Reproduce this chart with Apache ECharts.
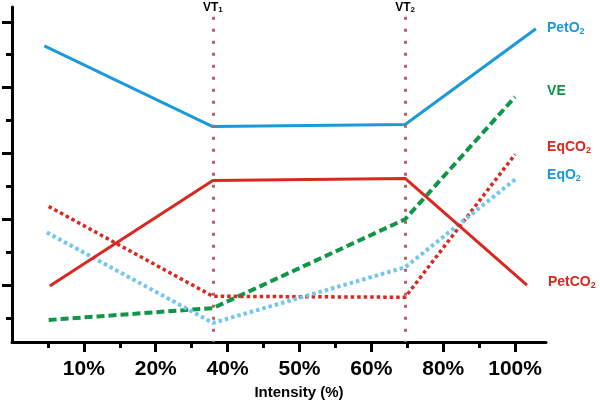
<!DOCTYPE html>
<html>
<head>
<meta charset="utf-8">
<script src="https://cdn.jsdelivr.net/npm/echarts@6/dist/echarts.min.js"></script>
<style>html,body{margin:0;padding:0;background:#fff}#c{width:600px;height:403px}</style>
</head>
<body>
<div id="c"></div>
<script>
// x positions on an evenly ticked axis (tick every unit); y in arbitrary units
const xTickPositions = [2, 4, 6, 8, 10, 12, 14];
const xTickLabels = ['10%', '20%', '40%', '50%', '60%', '80%', '100%'];
const xMinorTicks = [1, 3, 5, 7, 9, 11, 13];
const yMajorTicks = [1.73, 3.73, 5.73, 7.73, 9.73];
const yMinorTicks = [0.73, 2.73, 4.73, 6.73, 8.73];

const vtX = [5.59, 10.94];
const vtNames = ['1', '2'];

const xPetO2 = [0.9, 5.57, 10.94, 14.58];
const yPetO2 = [9.0, 6.55, 6.61, 9.52];
const xPetCO2 = [1.05, 5.59, 10.94, 14.33];
const yPetCO2 = [1.70, 4.91, 4.97, 1.73];
const xVE = [1.02, 5.59, 10.94, 14.0];
const yVE = [0.67, 1.03, 3.73, 7.45];
const xEqCO2 = [1.02, 5.59, 10.94, 14.0];
const yEqCO2 = [4.12, 1.39, 1.36, 5.70];
const xEqO2 = [0.97, 5.59, 10.94, 14.0];
const yEqO2 = [3.33, 0.58, 2.27, 4.94];

const zip = (xs, ys) => xs.map((x, i) => [x, ys[i]]);
const FONT = '"Liberation Sans", Arial, sans-serif';
const NARROW = '"Liberation Sans Narrow", "Liberation Sans", Arial, sans-serif';

const BLUE = '#1b9ad7', GREEN = '#0f9648', RED = '#d8281f', LBLUE = '#74c6ec', VT = '#b3646b';

function endLab(main, sub, color, offset) {
  return {
    show: true, distance: 0, offset: offset, align: 'left', verticalAlign: 'middle',
    formatter: '{a|' + main + '}{s|' + sub + '}',
    rich: {
      a: {fontFamily: FONT, fontWeight: 'bold', fontSize: 14, lineHeight: 16, color: color},
      s: {fontFamily: FONT, fontWeight: 'bold', fontSize: 9, lineHeight: 10, color: color, verticalAlign: 'bottom'}
    }
  };
}

const chart = echarts.init(document.getElementById('c'), null, {renderer: 'canvas'});
chart.setOption({
  animation: false,
  backgroundColor: '#fff',
  grid: {left: 12, right: 54, top: 7, bottom: 61, containLabel: false, outerBoundsMode: 'none'},
  xAxis: [{
    type: 'value', min: 0, max: 14.86, position: 'bottom',
    axisLine: {show: true, onZero: false, lineStyle: {color: '#000', width: 3}},
    axisTick: {show: true, customValues: xTickPositions, length: 10, lineStyle: {color: '#000', width: 3}},
    axisLabel: {
      show: true, customValues: xTickPositions, margin: 17,
      formatter: v => xTickLabels[xTickPositions.indexOf(v)] || '',
      fontFamily: NARROW, fontWeight: 'bold', fontSize: 21, color: '#000'
    },
    splitLine: {show: false},
    name: 'Intensity (%)', nameLocation: 'middle', nameGap: 37,
    nameTextStyle: {fontFamily: FONT, fontWeight: 'bold', fontSize: 15, color: '#000', padding: [0, 0, 0, 40]}
  }, {
    type: 'value', min: 0, max: 14.86, position: 'bottom',
    axisLine: {show: false, onZero: false},
    axisTick: {show: true, customValues: xMinorTicks, length: 6, lineStyle: {color: '#000', width: 3}},
    axisLabel: {show: false},
    splitLine: {show: false}
  }],
  yAxis: [{
    type: 'value', min: 0, max: 10.18, position: 'left',
    axisLine: {show: true, onZero: false, lineStyle: {color: '#000', width: 3}},
    axisTick: {show: true, customValues: yMajorTicks, length: 10, lineStyle: {color: '#000', width: 3}},
    axisLabel: {show: false},
    splitLine: {show: false}
  }, {
    type: 'value', min: 0, max: 10.18, position: 'left',
    axisLine: {show: false, onZero: false},
    axisTick: {show: true, customValues: yMinorTicks, length: 6, lineStyle: {color: '#000', width: 3}},
    axisLabel: {show: false},
    splitLine: {show: false}
  }],
  series: [
    {
      type: 'line', data: [], silent: true,
      markLine: {
        silent: true, symbol: ['none', 'none'], animation: false,
        lineStyle: {color: VT, width: 3, type: [3, 9], cap: 'butt'},
        label: {
          show: true, position: 'start', distance: 3,
          rich: {
            a: {fontFamily: FONT, fontWeight: 'bold', fontSize: 12, lineHeight: 13, color: '#000'},
            s: {fontFamily: FONT, fontWeight: 'bold', fontSize: 8, lineHeight: 9, color: '#000', verticalAlign: 'bottom'}
          }
        },
        data: vtX.map((x, i) => [
          {coord: [x, 9.88], label: {formatter: '{a|VT}{s|' + vtNames[i] + '}'}},
          {coord: [x, 0]}
        ])
      }
    },
    {
      name: 'PetO2', type: 'line', data: zip(xPetO2, yPetO2), symbol: 'none', clip: false,
      lineStyle: {color: BLUE, width: 3, type: 'solid'},
      endLabel: endLab('PetO', '2', BLUE, [11, -1])
    },
    {
      name: 'VE', type: 'line', data: zip(xVE, yVE), symbol: 'none', clip: false,
      lineStyle: {color: GREEN, width: 4, type: [8, 4]},
      endLabel: endLab('VE', '', GREEN, [32, -6])
    },
    {
      name: 'EqCO2', type: 'line', data: zip(xEqCO2, yEqCO2), symbol: 'none', clip: false,
      lineStyle: {color: RED, width: 3.5, type: [3.5, 3]},
      endLabel: endLab('EqCO', '2', RED, [32, -7])
    },
    {
      name: 'EqO2', type: 'line', data: zip(xEqO2, yEqO2), symbol: 'none', clip: false,
      lineStyle: {color: LBLUE, width: 4, type: [3.5, 3]},
      endLabel: endLab('EqO', '2', BLUE, [32, -4])
    },
    {
      name: 'PetCO2', type: 'line', data: zip(xPetCO2, yPetCO2), symbol: 'none', clip: false,
      lineStyle: {color: RED, width: 3, type: 'solid'},
      endLabel: endLab('PetCO', '2', RED, [21, -3])
    }
  ]
});
</script>
</body>
</html>
